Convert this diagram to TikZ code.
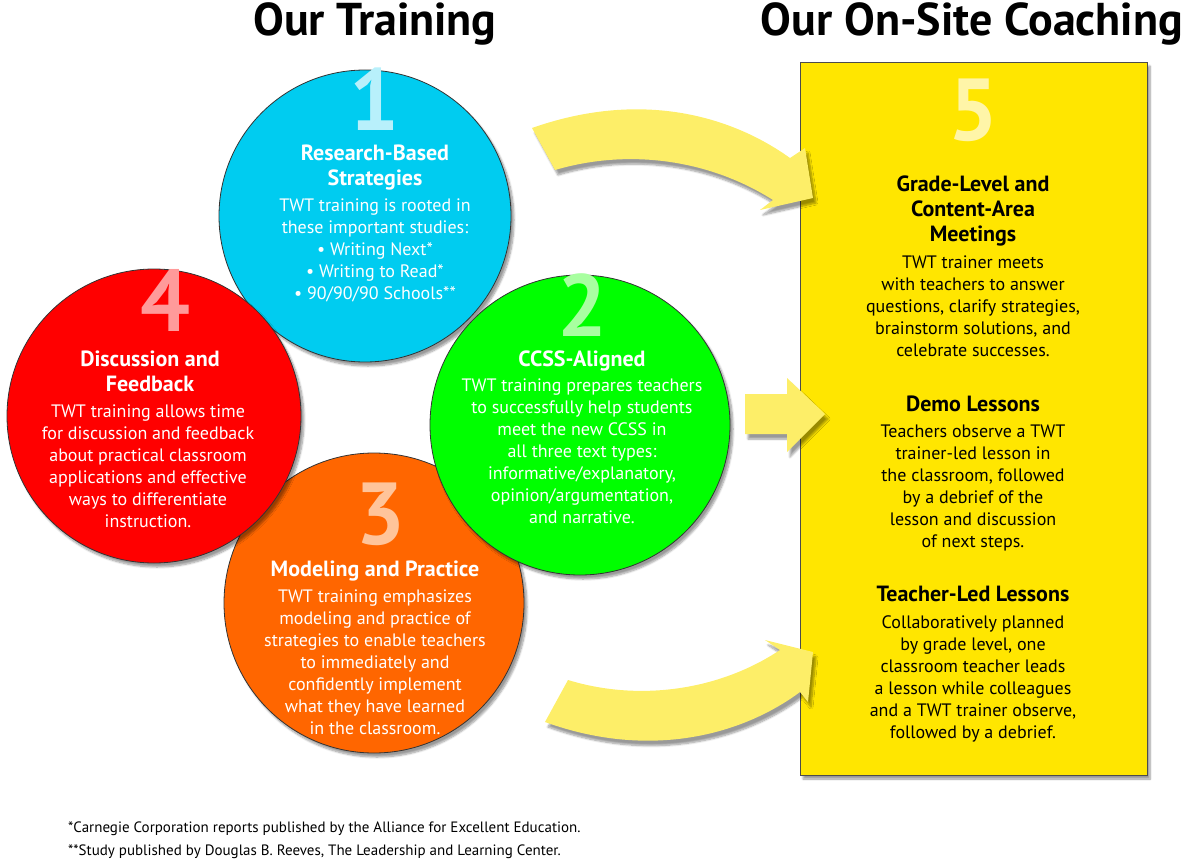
\documentclass[tikz,border=0pt]{standalone}
\usepackage{fontspec}
\setmainfont{PT Sans}
\usetikzlibrary{shadows.blur}
\definecolor{cblue}{HTML}{00CCF0}
\definecolor{cgreen}{HTML}{00FF00}
\definecolor{cred}{HTML}{FF0000}
\definecolor{corange}{HTML}{FF6600}
\definecolor{cyel}{HTML}{FFE600}
\definecolor{carrow}{HTML}{FDEE68}
\definecolor{nblue}{HTML}{B8F0FB}
\definecolor{ngreen}{HTML}{A8FFA0}
\definecolor{nred}{HTML}{FF9A9A}
\definecolor{norange}{HTML}{FFC49A}
\definecolor{nyel}{HTML}{FFF5A8}
\tikzset{
 circ/.style={draw=black!80,line width=0.8pt,blur shadow={shadow xshift=3pt,shadow yshift=-4pt,shadow blur steps=8}},
 arr/.style={fill=carrow,blur shadow={shadow xshift=3pt,shadow yshift=-5pt,shadow blur steps=8}},
 num/.style={font=\fontsize{88}{88}\selectfont\bfseries,anchor=base},
 ttl/.style={font=\fontsize{22}{25}\selectfont\bfseries,align=center,anchor=north,inner sep=0pt},
 body/.style={font=\fontsize{18}{22}\selectfont,align=center,anchor=north,inner sep=0pt},
 wt/.style={text=white},
 head/.style={font=\fontsize{46}{48}\selectfont\bfseries,inner sep=0pt}
}
\begin{document}
\begin{tikzpicture}[x=1pt,y=-1pt]
\useasboundingbox (0,0) rectangle (1200,867);
% headings
\node[head] (h1) at (375,24) {Our Training};
\node[head] (h2) at (972,24) {Our On-Site Coaching};
% box
\node[draw=black!70,line width=0.8pt,fill=cyel,minimum width=347pt,minimum height=713pt,inner sep=0pt,blur shadow={shadow xshift=3pt,shadow yshift=-4pt,shadow blur steps=8}] (box) at (973.5,418.5) {};
% arrows
\path[arr] (532,128) .. controls (640,90) and (730,115) .. (790,158) -- (805,148) -- (813,198) -- (760,210) -- (773,200) .. controls (710,160) and (630,148) .. (555,170) -- cycle;
\path[arr] (545,722) .. controls (650,760) and (742,735) .. (800,692) -- (808,702) -- (813,652) -- (765,640) -- (780,650) .. controls (720,690) and (640,702) .. (568,680) -- cycle;
\path[arr] (745,394) -- (787,394) -- (787,378) -- (825,414) -- (787,452) -- (787,434) -- (745,434) -- cycle;
% circles
\path[circ,fill=cblue] (365,216) circle (146);
\path[circ,fill=corange] (374,603) circle (150);
\path[circ,fill=cred] (154,416) circle (147);
\path[circ,fill=cgreen] (580,425) circle (150);
% circle 1
\node[num,text=nblue] (n1) at (374,130) {1};
\node[ttl,wt] (t1) at (375,145) {Research-Based\\Strategies};
\node[body,wt] (b1) at (375,199) {TWT training is rooted in\\these important studies:\\• Writing Next*\\• Writing to Read*\\• 90/90/90 Schools**};
% circle 2
\node[num,text=ngreen] (n2) at (582,336) {2};
\node[ttl,wt] (t2) at (582,351) {CCSS-Aligned};
\node[body,wt] (b2) at (582,379) {TWT training prepares teachers\\to successfully help students\\meet the new CCSS in\\all three text types:\\informative/explanatory,\\opinion/argumentation,\\and narrative.};
% circle 4
\node[num,text=nred] (n4) at (165,331) {4};
\node[ttl,wt] (t4) at (150,351) {Discussion and\\Feedback};
\node[body,wt] (b4) at (148,405) {TWT training allows time\\for discussion and feedback\\about practical classroom\\applications and effective\\ways to differentiate\\instruction.};
% circle 3
\node[num,text=norange] (n3) at (380,544) {3};
\node[ttl,wt] (t3) at (375,561) {Modeling and Practice};
\node[body,wt] (b3) at (375,590) {TWT training emphasizes\\modeling and practice of\\strategies to enable teachers\\to immediately and\\confidently implement\\what they have learned\\in the classroom.};
% box text
\node[num,text=nyel] (n5) at (973,140) {5};
\node[ttl] (t5) at (973,176) {Grade-Level and\\Content-Area\\Meetings};
\node[body] (b5) at (973,256) {TWT trainer meets\\with teachers to answer\\questions, clarify strategies,\\brainstorm solutions, and\\celebrate successes.};
\node[ttl] (t6) at (973,396) {Demo Lessons};
\node[body] (b6) at (973,425) {Teachers observe a TWT\\trainer-led lesson in\\the classroom, followed\\by a debrief of the\\lesson and discussion\\of next steps.};
\node[ttl] (t7) at (973,586) {Teacher-Led Lessons};
\node[body] (b7) at (973,615) {Collaboratively planned\\by grade level, one\\classroom teacher leads\\a lesson while colleagues\\and a TWT trainer observe,\\followed by a debrief.};
% footnotes
\node[font=\fontsize{15}{23}\selectfont,align=left,anchor=north west,inner sep=0pt] (fn) at (68,822) {*Carnegie Corporation reports published by the Alliance for Excellent Education.\\**Study published by Douglas B. Reeves, The Leadership and Learning Center.};
\end{tikzpicture}
\end{document}
